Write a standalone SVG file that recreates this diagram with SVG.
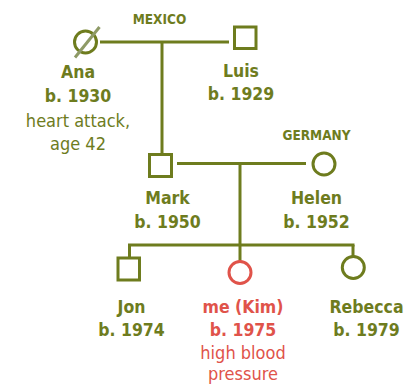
<svg xmlns="http://www.w3.org/2000/svg" width="419" height="385" viewBox="0 0 419 385">
<style>
  .ln { stroke: #6e7c1e; stroke-width: 3; fill: none; }
  .sym { stroke: #6e7c1e; stroke-width: 3; fill: #ffffff; }
  .symr { stroke: #e0534a; stroke-width: 3; fill: #ffffff; }
  .strike { stroke: #8e9a66; stroke-width: 3; }
  text { font-family: "DejaVu Sans Condensed", "DejaVu Sans", sans-serif; font-stretch: condensed; text-anchor: middle; }
  .nm { font-weight: bold; font-size: 17.5px; fill: #6e7c1e; }
  .nt { font-size: 18px; fill: #6e7c1e; }
  .nmr { font-weight: bold; font-size: 17.5px; fill: #e0534a; }
  .ntr { font-size: 18px; fill: #e0534a; }
  .ct { font-weight: bold; font-size: 13.5px; fill: #6e7c1e; }
</style>
<rect width="419" height="385" fill="#ffffff"/>
<g id="connectors">
  <line class="ln" x1="100" y1="42" x2="229" y2="42"/>
  <line class="ln" x1="162" y1="42" x2="162" y2="154"/>
  <line class="ln" x1="177" y1="163.5" x2="306" y2="163.5"/>
  <line class="ln" x1="240" y1="163.5" x2="240" y2="245"/>
  <line class="ln" x1="128" y1="245" x2="354.5" y2="245"/>
  <line class="ln" x1="129.5" y1="245" x2="129.5" y2="258"/>
  <line class="ln" x1="240" y1="245" x2="240" y2="262"/>
  <line class="ln" x1="353" y1="245" x2="353" y2="257"/>
</g>
<g id="labels">
  <text class="ct" x="159.5" y="24">MEXICO</text>
  <text class="ct" x="316.5" y="140">GERMANY</text>
</g>
<g id="ana">
  <circle class="sym" cx="85.5" cy="42" r="11"/>
  <line class="strike" x1="75" y1="57.5" x2="99.5" y2="27"/>
  <text class="nm" x="78" y="78">Ana</text>
  <text class="nm" x="78" y="101.5">b. 1930</text>
  <text class="nt" x="78" y="126.5">heart attack,</text>
  <text class="nt" x="78" y="150">age 42</text>
</g>
<g id="luis">
  <rect class="sym" x="234.5" y="27" width="21.5" height="21.5"/>
  <text class="nm" x="241" y="77">Luis</text>
  <text class="nm" x="241" y="100">b. 1929</text>
</g>
<g id="mark">
  <rect class="sym" x="149.5" y="154.5" width="22" height="22"/>
  <text class="nm" x="167.5" y="204">Mark</text>
  <text class="nm" x="167.5" y="227.5">b. 1950</text>
</g>
<g id="helen">
  <circle class="sym" cx="324" cy="164" r="11"/>
  <text class="nm" x="316.5" y="204">Helen</text>
  <text class="nm" x="316.5" y="227.5">b. 1952</text>
</g>
<g id="jon">
  <rect class="sym" x="118" y="258" width="21.5" height="22"/>
  <text class="nm" x="131.5" y="312.5">Jon</text>
  <text class="nm" x="131.5" y="336">b. 1974</text>
</g>
<g id="kim">
  <circle class="symr" cx="240" cy="272.5" r="11"/>
  <text class="nmr" x="243" y="312.5">me (Kim)</text>
  <text class="nmr" x="243" y="336">b. 1975</text>
  <text class="ntr" x="243" y="359">high blood</text>
  <text class="ntr" x="243" y="380">pressure</text>
</g>
<g id="rebecca">
  <circle class="sym" cx="353.3" cy="267.5" r="11"/>
  <text class="nm" x="366.5" y="312.5">Rebecca</text>
  <text class="nm" x="366.5" y="336">b. 1979</text>
</g>
</svg>
